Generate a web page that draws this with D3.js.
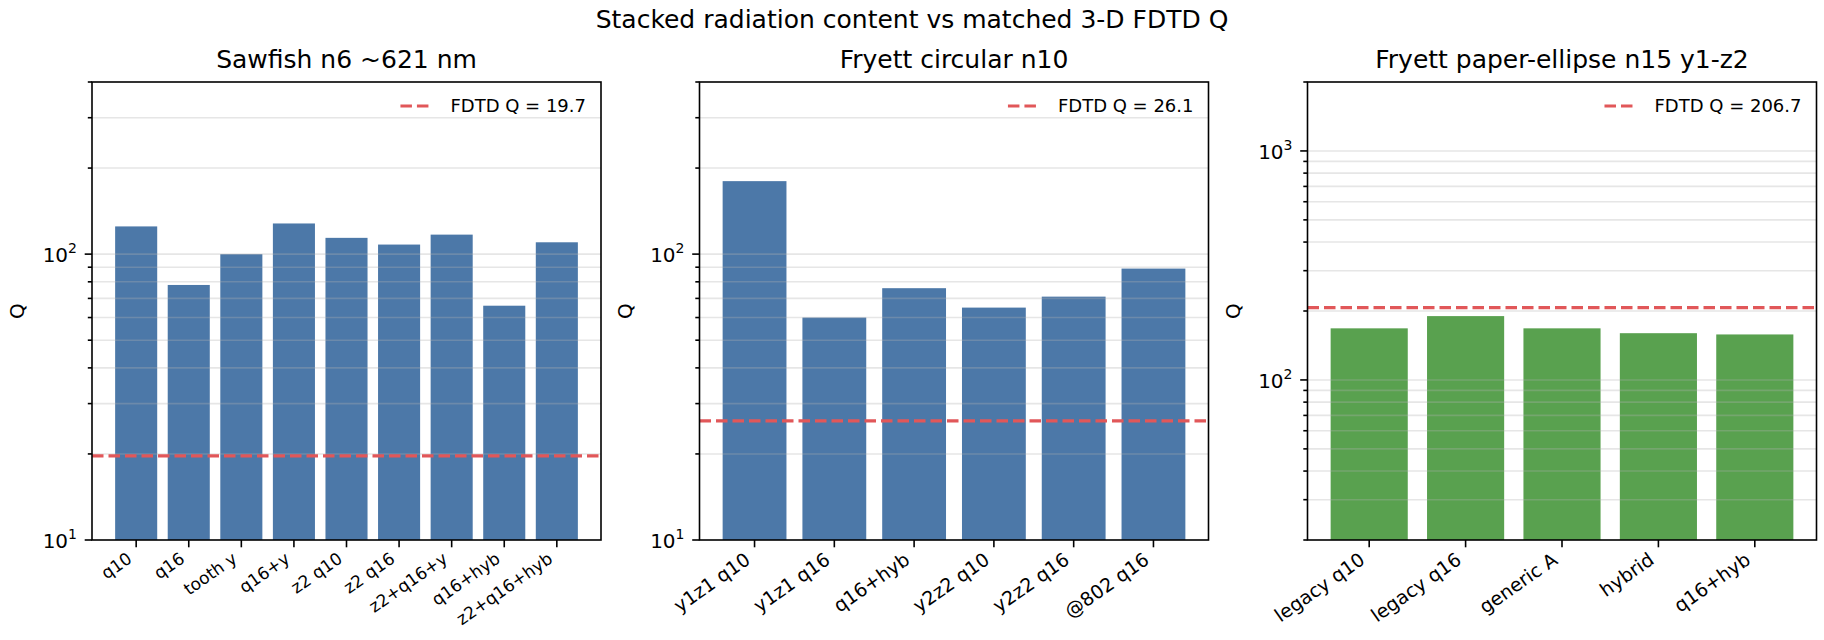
<!DOCTYPE html>
<html>
<head>
<meta charset="utf-8">
<script src="https://cdnjs.cloudflare.com/ajax/libs/d3/7.8.5/d3.min.js"></script>
<style>
  body { margin: 0; background: #fff; }
  text { font-family: "DejaVu Sans", sans-serif; fill: #000; }
</style>
</head>
<body>
<script>
// values
var sawfishLabels = ["q10", "q16", "tooth y", "q16+y", "z2 q10", "z2 q16", "z2+q16+y", "q16+hyb", "z2+q16+hyb"];
var sawfishQ = [125, 78, 100, 128, 114, 108, 117, 66, 110];

var circLabels = ["y1z1 q10", "y1z1 q16", "q16+hyb", "y2z2 q10", "y2z2 q16", "@802 q16"];
var circQ = [180, 60, 76, 65, 71, 89];

var ellipseLabels = ["legacy q10", "legacy q16", "generic A", "hybrid", "q16+hyb"];
var ellipseQ = [168, 190, 168, 160, 158];

var panelTitles = ["Sawfish n6 ~621 nm", "Fryett circular n10", "Fryett paper-ellipse n15 y1-z2"];
var fdtdQ = [19.7, 26.1, 206.7];
var yDomains = [[10, 400], [10, 400], [20, 2000]];

var panels = [
  {title: panelTitles[0], labels: sawfishLabels, values: sawfishQ, fdtd: fdtdQ[0], ydom: yDomains[0], color: "#4c78a8", labelSize: 17},
  {title: panelTitles[1], labels: circLabels, values: circQ, fdtd: fdtdQ[1], ydom: yDomains[1], color: "#4c78a8", labelSize: 19},
  {title: panelTitles[2], labels: ellipseLabels, values: ellipseQ, fdtd: fdtdQ[2], ydom: yDomains[2], color: "#59a14f", labelSize: 19}
];

var W = 1824, H = 640;
var axTop = 82, axBottom = 540, pw = 509;
var lefts = [92, 699.5, 1307.5];

var svg = d3.select("body").append("svg")
  .attr("width", W)
  .attr("height", H);

svg.append("text")
  .attr("x", 912)
  .attr("y", 28)
  .attr("text-anchor", "middle")
  .style("font-size", "25px")
  .text("Stacked radiation content vs matched 3-D FDTD Q");

panels.forEach(function(p, i) {
  var left = lefts[i], right = left + pw;
  var n = p.labels.length;

  var x = d3.scaleBand()
    .domain(p.labels)
    .range([left, right])
    .paddingInner(0.2)
    .paddingOuter(0.05 * (n - 0.2));

  var y = d3.scaleLog()
    .domain(p.ydom)
    .range([axBottom, axTop]);

  var g = svg.append("g");

  // bars
  g.selectAll("rect.bar")
    .data(p.values)
    .enter()
    .append("rect")
    .attr("class", "bar")
    .attr("x", function(d, j) { return x(p.labels[j]); })
    .attr("width", x.bandwidth())
    .attr("y", function(d) { return y(d); })
    .attr("height", function(d) { return axBottom - y(d); })
    .style("fill", p.color);

  // grid drawn over the bars, like the reference
  var gridTicks = y.ticks().filter(function(t) { return t > p.ydom[0] && t < p.ydom[1]; });
  g.selectAll("line.grid")
    .data(gridTicks)
    .enter()
    .append("line")
    .attr("x1", left).attr("x2", right)
    .attr("y1", function(d) { return y(d); })
    .attr("y2", function(d) { return y(d); })
    .style("stroke", "#b0b0b0")
    .style("stroke-opacity", 0.32)
    .style("stroke-width", 1.6);

  // FDTD reference line
  g.append("line")
    .attr("x1", left).attr("x2", right)
    .attr("y1", y(p.fdtd)).attr("y2", y(p.fdtd))
    .style("stroke", "#e15759")
    .style("stroke-width", 3.2)
    .style("stroke-dasharray", "11.5,5");

  // y ticks
  var allTicks = y.ticks().filter(function(t) { return t >= p.ydom[0] && t <= p.ydom[1]; });
  g.selectAll("line.ytick")
    .data(allTicks)
    .enter()
    .append("line")
    .attr("x1", function(d) { return left - (isPow10(d) ? 7.3 : 4.2); })
    .attr("x2", left)
    .attr("y1", function(d) { return y(d); })
    .attr("y2", function(d) { return y(d); })
    .style("stroke", "#000")
    .style("stroke-width", 1.6);

  var majors = allTicks.filter(isPow10);
  var lbl = g.selectAll("text.ylab")
    .data(majors)
    .enter()
    .append("text")
    .attr("x", left - 15)
    .attr("y", function(d) { return y(d) + 8; })
    .attr("text-anchor", "end")
    .style("font-size", "20px");
  lbl.append("tspan").text("10");
  lbl.append("tspan")
    .attr("dy", -9)
    .style("font-size", "14px")
    .text(function(d) { return Math.round(Math.log10(d)); });

  // x ticks and labels
  g.selectAll("line.xtick")
    .data(p.labels)
    .enter()
    .append("line")
    .attr("x1", function(d) { return x(d) + x.bandwidth() / 2; })
    .attr("x2", function(d) { return x(d) + x.bandwidth() / 2; })
    .attr("y1", axBottom)
    .attr("y2", axBottom + 7.3)
    .style("stroke", "#000")
    .style("stroke-width", 1.6);

  g.selectAll("text.xlab")
    .data(p.labels)
    .enter()
    .append("text")
    .attr("transform", function(d) {
      var cx = x(d) + x.bandwidth() / 2 - 3;
      return "translate(" + cx + "," + (axBottom + 9 + 0.72 * p.labelSize) + ") rotate(-35)";
    })
    .attr("text-anchor", "end")
    .style("font-size", p.labelSize + "px")
    .text(function(d) { return d; });

  // frame
  g.append("rect")
    .attr("x", left).attr("y", axTop)
    .attr("width", pw).attr("height", axBottom - axTop)
    .style("fill", "none")
    .style("stroke", "#000")
    .style("stroke-width", 1.6);

  // titles
  g.append("text")
    .attr("x", left + pw / 2)
    .attr("y", 68)
    .attr("text-anchor", "middle")
    .style("font-size", "25px")
    .text(p.title);

  g.append("text")
    .attr("transform", "translate(" + (left - 68) + "," + ((axTop + axBottom) / 2) + ") rotate(-90)")
    .attr("text-anchor", "middle")
    .style("font-size", "20px")
    .text("Q");

  // legend
  var legText = g.append("text")
    .attr("x", right - 15)
    .attr("y", axTop + 30)
    .attr("text-anchor", "end")
    .style("font-size", "18px")
    .text("FDTD Q = " + p.fdtd);
  var tw = legText.node().getComputedTextLength();
  var lx2 = right - 15 - tw - 19;
  g.append("line")
    .attr("x1", lx2 - 31).attr("x2", lx2)
    .attr("y1", axTop + 24).attr("y2", axTop + 24)
    .style("stroke", "#e15759")
    .style("stroke-width", 3.2)
    .style("stroke-dasharray", "11.5,5");
});

function isPow10(v) {
  var l = Math.log10(v);
  return Math.abs(l - Math.round(l)) < 1e-9;
}
</script>
</body>
</html>
